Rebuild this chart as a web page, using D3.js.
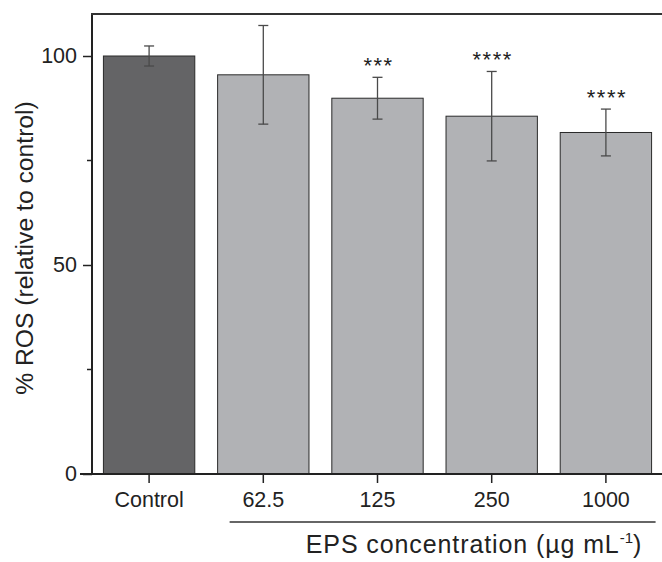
<!DOCTYPE html>
<html>
<head>
<meta charset="utf-8">
<script src="https://cdn.jsdelivr.net/npm/d3@7"></script>
<style>
  body { margin: 0; background: #fff; }
  text { font-family: "Liberation Sans", Arial, sans-serif; fill: #222; }
</style>
</head>
<body>
<svg id="chart" width="662" height="562"></svg>
<script>
const categories = ["Control", "62.5", "125", "250", "1000"];
const means = [100, 95.5, 89.9, 85.6, 81.7];
const errors = [2.4, 11.8, 5.0, 10.7, 5.6];
const stars = ["", "", "***", "****", "****"];
const barColors = ["#646466", "#b1b2b5", "#b1b2b5", "#b1b2b5", "#b1b2b5"];
const yTicks = [0, 50, 100];
const yMinorTicks = [25, 75];

(function () {
const svg = d3.select("#chart");
const mLeft = 92, mRight = 663, mTop = 14, mBottom = 474;

const x = d3.scaleBand().domain(categories).range([mLeft, mRight]).paddingInner(0.2).paddingOuter(0.1);
// 100 maps to y=56 as in the reference
const y = d3.scaleLinear().domain([0, 100 * (mBottom - mTop) / (mBottom - 56)]).range([mBottom, mTop]);

const data = categories.map((c, i) => ({ c, m: means[i], e: errors[i], s: stars[i], col: barColors[i] }));

// bars
svg.selectAll("rect.bar").data(data).join("rect")
  .attr("class", "bar")
  .attr("x", d => x(d.c))
  .attr("width", x.bandwidth())
  .attr("y", d => y(d.m))
  .attr("height", d => y(0) - y(d.m))
  .attr("fill", d => d.col)
  .attr("stroke", "#2a2a2a")
  .attr("stroke-width", 1);

// error bars
const eb = svg.selectAll("g.err").data(data).join("g").attr("class", "err")
  .attr("stroke", "#4a4a4a").attr("stroke-width", 1.3);
eb.append("line")
  .attr("x1", d => x(d.c) + x.bandwidth() / 2).attr("x2", d => x(d.c) + x.bandwidth() / 2)
  .attr("y1", d => y(d.m + d.e)).attr("y2", d => y(d.m - d.e));
eb.append("line")
  .attr("x1", d => x(d.c) + x.bandwidth() / 2 - 5).attr("x2", d => x(d.c) + x.bandwidth() / 2 + 5)
  .attr("y1", d => y(d.m + d.e)).attr("y2", d => y(d.m + d.e));
eb.append("line")
  .attr("x1", d => x(d.c) + x.bandwidth() / 2 - 5).attr("x2", d => x(d.c) + x.bandwidth() / 2 + 5)
  .attr("y1", d => y(d.m - d.e)).attr("y2", d => y(d.m - d.e));

// stars
svg.selectAll("text.star").data(data.filter(d => d.s)).join("text")
  .attr("class", "star")
  .attr("x", d => x(d.c) + x.bandwidth() / 2 + 1)
  .attr("y", d => y(d.m + d.e) - 4)
  .attr("text-anchor", "middle")
  .style("font-size", "22px")
  .style("letter-spacing", "1.5px")
  .text(d => d.s);

// y axis
const yAxis = svg.append("g").attr("transform", `translate(${mLeft},0)`)
  .call(d3.axisLeft(y).tickValues(yTicks).tickSize(9).tickPadding(6).tickSizeOuter(0));
yAxis.select(".domain").remove();
yAxis.selectAll(".tick line").attr("stroke", "#222").attr("stroke-width", 1.5);
yAxis.selectAll(".tick text").style("font-size", "21.5px").attr("fill", "#222");
svg.append("g").selectAll("line").data(yMinorTicks).join("line")
  .attr("x1", mLeft - 5).attr("x2", mLeft)
  .attr("y1", d => y(d)).attr("y2", d => y(d))
  .attr("stroke", "#222").attr("stroke-width", 1.5);
svg.append("line").attr("x1", mLeft).attr("x2", mLeft).attr("y1", mTop).attr("y2", mBottom + 1)
  .attr("stroke", "#222").attr("stroke-width", 2);

// top frame
svg.append("line").attr("x1", mLeft - 1).attr("x2", 662).attr("y1", mTop).attr("y2", mTop)
  .attr("stroke", "#333").attr("stroke-width", 2);

// x axis
const xAxis = svg.append("g").attr("transform", `translate(0,${mBottom})`)
  .call(d3.axisBottom(x).tickSize(9).tickPadding(9).tickSizeOuter(0));
xAxis.select(".domain").remove();
xAxis.selectAll(".tick line").attr("stroke", "#222").attr("stroke-width", 1.5);
xAxis.selectAll(".tick text").style("font-size", "21.5px").attr("fill", "#222");
svg.append("line").attr("x1", mLeft - 12).attr("x2", 662).attr("y1", mBottom).attr("y2", mBottom)
  .attr("stroke", "#222").attr("stroke-width", 2);

// group underline
svg.append("line")
  .attr("x1", x("62.5") + 12).attr("x2", x("1000") + x.bandwidth() + 4)
  .attr("y1", 522).attr("y2", 522)
  .attr("stroke", "#333").attr("stroke-width", 1.5);

// x title
const xt = svg.append("text").attr("x", 474).attr("y", 553).attr("text-anchor", "middle")
  .style("font-size", "25px").style("letter-spacing", "0.9px");
xt.append("tspan").text("EPS concentration (µg mL");
xt.append("tspan").attr("dy", -10).style("font-size", "15px").style("letter-spacing", "0px").text("-1");
xt.append("tspan").attr("dy", 10).text(")");

// y title
svg.append("text")
  .attr("transform", `translate(33,248) rotate(-90)`)
  .attr("text-anchor", "middle")
  .style("font-size", "24.7px")
  .text("% ROS (relative to control)");
})();
</script>
</body>
</html>
